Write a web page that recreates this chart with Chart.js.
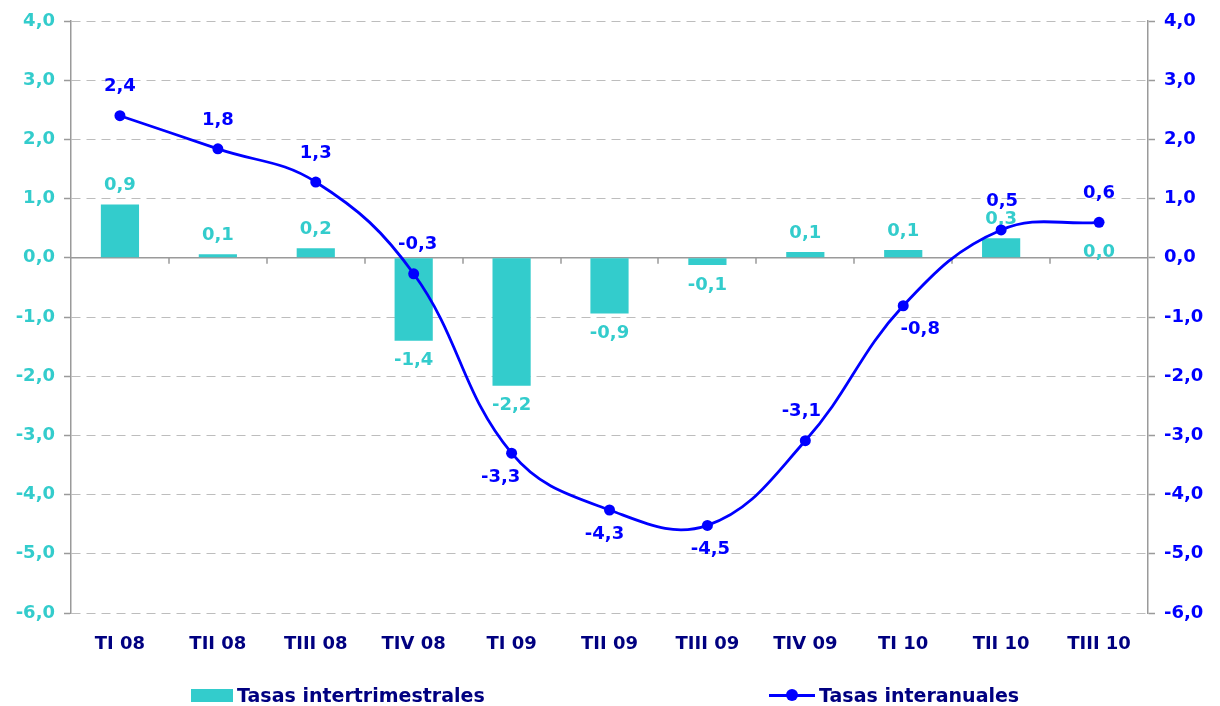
<!DOCTYPE html>
<html>
<head>
<meta charset="utf-8">
<script src="https://cdn.jsdelivr.net/npm/chart.js@4/dist/chart.umd.min.js"></script>
<style>
  body { margin: 0; background: #fff; }
  #wrap { position: relative; width: 1220px; height: 706px; }
  .leg { position: absolute; top: 684px; font: bold 19px "DejaVu Sans", sans-serif; color: #000080; display: flex; align-items: center; white-space: nowrap; }
  .sw { display: inline-block; width: 42px; height: 13px; background: #33CCCC; margin-right: 4px; }
  .ln { position: relative; display: inline-block; width: 46px; height: 3px; background: #0000FF; margin-right: 4px; }
  .ln::after { content: ""; position: absolute; left: 17px; top: -5px; width: 12px; height: 12px; border-radius: 50%; background: #0000FF; }
</style>
</head>
<body>
<div id="wrap">
  <canvas id="tasasChart" width="1220" height="706"></canvas>
  <div class="leg" style="left:191px"><span class="sw"></span>Tasas intertrimestrales</div>
  <div class="leg" style="left:769px"><span class="ln"></span>Tasas interanuales</div>
</div>
<script>
// data
const quarters = ['TI 08','TII 08','TIII 08','TIV 08','TI 09','TII 09','TIII 09','TIV 09','TI 10','TII 10','TIII 10'];
const intertrimestral = [0.9, 0.06, 0.16, -1.4, -2.16, -0.94, -0.12, 0.1, 0.13, 0.33, 0.0];
const interanual = [2.4, 1.84, 1.28, -0.27, -3.3, -4.26, -4.52, -3.09, -0.81, 0.47, 0.6];
const axisMin = -6;
const axisMax = 4;

// label placement for the line ('a' above / 'b' below) and small sideways nudges
const lineLabelPos = ['a','a','a','a','b','b','b','a','b','a','a'];
const lineLabelDx = [0, 0, 0, 4, -11, -5, 3, -4, 17, 1, 0];

const TEAL = '#33CCCC';
const BLUE = '#0000FF';
const NAVY = '#000080';
const FONT = '"DejaVu Sans", sans-serif';

function fmt(v){
    return v.toFixed(1).replace('.', ',');
}

const zeroLine = {
    id: 'zeroLine',
    beforeDatasetsDraw(chart){
        const ctx = chart.ctx;
        const area = chart.chartArea;
        const y0 = chart.scales.y.getPixelForValue(0);
        const step = (area.right - area.left) / quarters.length;
        ctx.save();
        ctx.strokeStyle = '#9a9a9a';
        ctx.lineWidth = 1.5;
        ctx.beginPath();
        ctx.moveTo(area.left, y0);
        ctx.lineTo(area.right, y0);
        for(var i = 1; i < quarters.length; i++){
            var x = Math.round(area.left + i * step);
            ctx.moveTo(x, y0);
            ctx.lineTo(x, y0 + 6);
        }
        ctx.stroke();

        // bar labels (under the line)
        ctx.font = 'bold 18px ' + FONT;
        ctx.fillStyle = TEAL;
        ctx.textAlign = 'center';
        ctx.textBaseline = 'middle';
        chart.getDatasetMeta(0).data.forEach(function(bar, i){
            var v = intertrimestral[i];
            var y;
            if(v > 0) y = bar.y - 19;
            else if(v < 0) y = bar.y + 20;
            else y = y0 - 5;
            ctx.fillText(fmt(v), bar.x, y);
        });
        ctx.restore();
    },
    afterDatasetsDraw(chart){
        const ctx = chart.ctx;
        ctx.save();
        ctx.font = 'bold 18px ' + FONT;
        ctx.fillStyle = BLUE;
        ctx.textAlign = 'center';
        ctx.textBaseline = 'middle';
        chart.getDatasetMeta(1).data.forEach(function(pt, i){
            var y = lineLabelPos[i] == 'a' ? pt.y - 29 : pt.y + 24;
            ctx.fillText(fmt(interanual[i]), pt.x + lineLabelDx[i], y);
        });
        ctx.restore();
    }
};

const config = {
    data: {
        labels: quarters,
        datasets: [{
            type: 'bar',
            label: 'Tasas intertrimestrales',
            data: intertrimestral,
            backgroundColor: TEAL,
            barPercentage: 0.78,
            categoryPercentage: 0.5,
            yAxisID: 'y',
            order: 2
        }, {
            type: 'line',
            label: 'Tasas interanuales',
            data: interanual,
            borderColor: BLUE,
            backgroundColor: BLUE,
            borderWidth: 2.8,
            pointRadius: 5.5,
            pointBackgroundColor: BLUE,
            pointBorderWidth: 0,
            tension: 0.4,
            yAxisID: 'y1',
            order: 1
        }]
    },
    options: {
        responsive: false,
        animation: false,
        layout: { padding: { top: 21, bottom: 43, left: 0, right: 0 } },
        plugins: {
            legend: { display: false },
            tooltip: { enabled: false }
        },
        scales: {
            x: {
                grid: { display: false, drawTicks: false },
                border: { display: false },
                ticks: {
                    color: NAVY,
                    padding: 21,
                    font: { family: FONT, size: 18, weight: 'bold' },
                    maxRotation: 0
                },
                afterFit: function(s){ s.height = 50; }
            },
            y: {
                position: 'left',
                min: axisMin,
                max: axisMax,
                ticks: {
                    stepSize: 1,
                    color: TEAL,
                    padding: 9,
                    font: { family: FONT, size: 18, weight: 'bold' },
                    callback: function(v){ return fmt(v); }
                },
                grid: {
                    color: '#bdbdbd',
                    lineWidth: 1,
                    tickLength: 7,
                    tickColor: '#9a9a9a',
                    tickBorderDash: [],
                    tickWidth: 1.5
                },
                border: { color: '#9a9a9a', width: 1.5, dash: [9, 6] },
                afterFit: function(s){ s.width = 71; }
            },
            y1: {
                position: 'right',
                min: axisMin,
                max: axisMax,
                ticks: {
                    stepSize: 1,
                    color: BLUE,
                    padding: 9,
                    font: { family: FONT, size: 18, weight: 'bold' },
                    callback: function(v){ return fmt(v); }
                },
                grid: {
                    drawOnChartArea: false,
                    tickLength: 7,
                    tickColor: '#9a9a9a',
                    tickWidth: 1.5
                },
                border: { color: '#9a9a9a', width: 1.5 },
                afterFit: function(s){ s.width = 72; }
            }
        }
    },
    plugins: [zeroLine]
};

const tasasChart = new Chart(document.getElementById('tasasChart'), config);
</script>
</body>
</html>
